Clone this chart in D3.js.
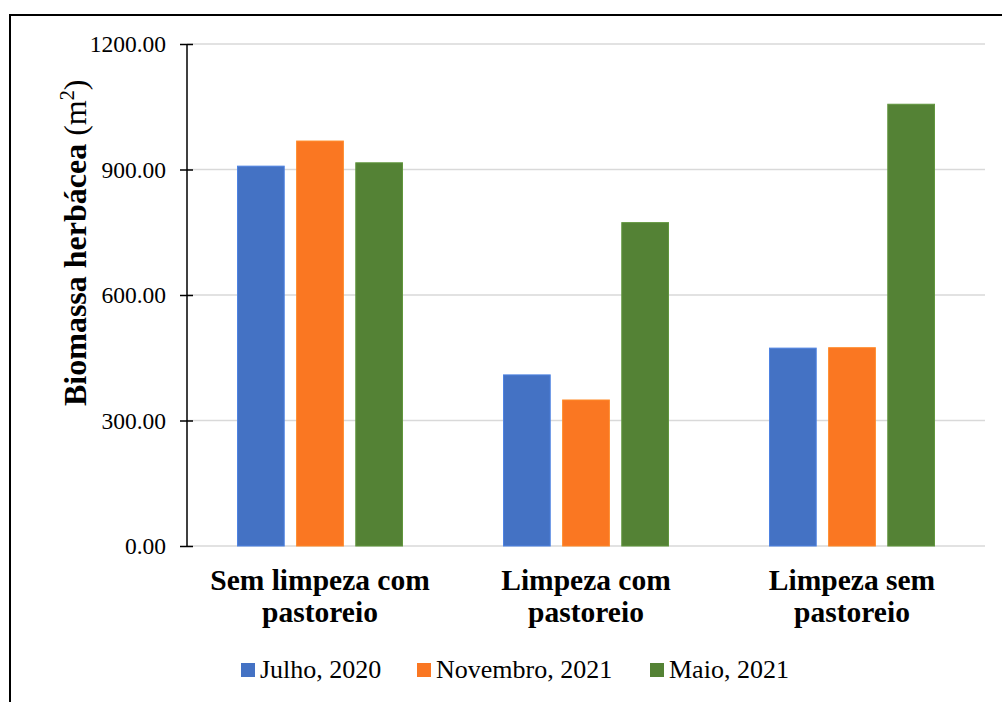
<!DOCTYPE html>
<html>
<head>
<meta charset="utf-8">
<script src="https://cdn.jsdelivr.net/npm/d3@7"></script>
<style>
  html, body { margin: 0; padding: 0; background: #fff; }
  svg { display: block; }
</style>
</head>
<body>
<script>
const categories = [["Sem limpeza com", "pastoreio"], ["Limpeza com", "pastoreio"], ["Limpeza sem", "pastoreio"]];
const seriesNames = ["Julho, 2020", "Novembro, 2021", "Maio, 2021"];
const julho2020 = [908, 409, 473];
const novembro2021 = [968, 349, 474];
const maio2021 = [916, 773, 1056];
const seriesValues = [julho2020, novembro2021, maio2021];
const seriesColors = ["#4472C4", "#FA7722", "#548235"];
const yTicks = [0, 300, 600, 900, 1200];

const FONT = "Liberation Serif";
const W = 1002, H = 702;
const svg = d3.select("body").append("svg").attr("width", W).attr("height", H);

// outer frame (top + left visible)
svg.append("rect").attr("x", 10).attr("y", 15).attr("width", 1100).attr("height", 800)
  .attr("fill", "none").attr("stroke", "#000").attr("stroke-width", 2);

const x0 = 187, x1 = 985, yTop = 44, yBot = 546;
const y = d3.scaleLinear().domain([0, 1200]).range([yBot, yTop]);
const xCat = d3.scaleBand().domain(d3.range(categories.length)).range([x0, x1]).padding(0);
const groupW = 165;
const xSer = d3.scaleBand().domain(d3.range(seriesNames.length))
  .range([(xCat.bandwidth() - groupW) / 2, (xCat.bandwidth() + groupW) / 2])
  .paddingInner(0.21).paddingOuter(0);

// gridlines
svg.append("g").selectAll("line").data(yTicks).join("line")
  .attr("x1", x0).attr("x2", x1)
  .attr("y1", d => y(d)).attr("y2", d => y(d))
  .attr("stroke", "#d9d9d9").attr("stroke-width", 1.5);

// bars
const groups = svg.append("g").selectAll("g").data(categories).join("g")
  .attr("transform", (d, i) => `translate(${xCat(i)},0)`);
groups.selectAll("rect").data((d, i) => seriesValues.map((s, j) => ({ j, v: s[i] }))).join("rect")
  .attr("x", d => xSer(d.j)).attr("width", xSer.bandwidth())
  .attr("y", d => y(d.v)).attr("height", d => y(0) - y(d.v))
  .attr("fill", d => seriesColors[d.j])
  .attr("stroke", d => d3.color(seriesColors[d.j]).brighter(0.4))
  .attr("stroke-width", 1);

// y axis
const yAxis = d3.axisLeft(y).tickValues(yTicks).tickFormat(d3.format(".2f")).tickSize(7).tickPadding(14);
const ga = svg.append("g").attr("transform", `translate(${x0},0)`).call(yAxis);
ga.attr("font-family", null);
ga.select(".domain").remove();
ga.append("line").attr("x1", 0).attr("x2", 0).attr("y1", yTop).attr("y2", yBot).attr("stroke", "#000").attr("stroke-width", 1.5);
ga.selectAll(".tick line").attr("x1", 6).attr("stroke", "#000").attr("stroke-width", 1.5);
ga.selectAll(".tick text").style("font-size", "23.5px").attr("fill", "#000")
  .style("font-family", FONT).attr("dy", "0.33em");

// y title
const yt = svg.append("text").attr("transform", "translate(86,406) rotate(-90)")
  .attr("text-anchor", "start").style("font-size", "32px").style("font-family", FONT).attr("fill", "#000");
yt.append("tspan").style("font-weight", "bold").text("Biomassa herbácea");
yt.append("tspan").text(" (m");
yt.append("tspan").style("font-size", "20px").attr("dy", -12).text("2");
yt.append("tspan").attr("dy", 12).text(")");

// category labels
svg.append("g").selectAll("text").data(categories).join("text")
  .attr("x", (d, i) => xCat(i) + xCat.bandwidth() / 2)
  .attr("text-anchor", "middle").style("font-size", "29.5px").style("font-weight", "bold")
  .style("font-family", FONT).attr("fill", "#000")
  .each(function(d) {
    d3.select(this).selectAll("tspan").data(d).join("tspan")
      .attr("x", d3.select(this).attr("x"))
      .attr("y", (t, k) => 590 + k * 32)
      .text(t => t);
  });

// legend
const legendX = [241, 417, 650];
const lg = svg.append("g").selectAll("g").data(seriesNames).join("g")
  .attr("transform", (d, i) => `translate(${legendX[i]},663)`);
lg.append("rect").attr("width", 14).attr("height", 14).attr("fill", (d, i) => seriesColors[i]);
lg.append("text").attr("x", 19).attr("y", 15).style("font-size", "26px").style("font-family", FONT)
  .attr("fill", "#000").text(d => d);
</script>
</body>
</html>
